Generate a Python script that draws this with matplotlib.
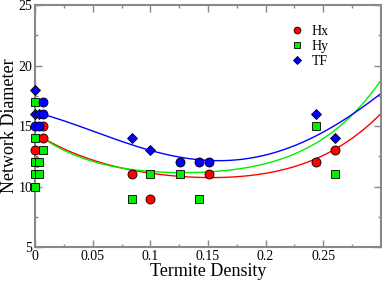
import matplotlib
matplotlib.use("Agg")
import matplotlib.pyplot as plt
import numpy as np
from matplotlib.ticker import MultipleLocator

plt.rcParams['font.family'] = ['Liberation Serif', 'DejaVu Serif']

# Hx (red circles)
hx_x = [0.0, 0.002, 0.007, 0.007, 0.084, 0.1, 0.151, 0.244, 0.26]
hx_y = [13, 12, 15, 14, 11, 9, 11, 12, 13]

# Hy (green squares)
hy_x = [0.0, 0.0, 0.0, 0.0, 0.0, 0.003, 0.003, 0.007, 0.084, 0.1, 0.126, 0.142, 0.244, 0.26]
hy_y = [17, 14, 12, 11, 10, 12, 11, 13, 9, 11, 11, 9, 15, 11]

# TF (blue diamonds, some drawn as circles)
tf_x = [0.0, 0.0, 0.003, 0.084, 0.1, 0.244, 0.26]
tf_y = [18, 16, 16, 14, 13, 16, 14]
tfc_x = [0.0, 0.003, 0.007, 0.007, 0.126, 0.142, 0.151]
tfc_y = [15, 15, 17, 16, 12, 12, 12]

# fitted trend curves
hx_fit_x = [0.004, 0.029, 0.058, 0.1, 0.129, 0.158, 0.186, 0.204, 0.23, 0.265, 0.3]
hx_fit_y = [14.2, 12.9, 11.95, 11.1, 10.87, 10.76, 10.87, 11.12, 11.78, 13.43, 16.0]
hy_fit_x = [0.004, 0.029, 0.058, 0.1, 0.129, 0.158, 0.186, 0.204, 0.23, 0.265, 0.282, 0.3]
hy_fit_y = [14.15, 12.85, 11.88, 11.22, 11.14, 11.28, 11.55, 11.97, 13.07, 15.0, 16.46, 18.86]
tf_fit_x = [0.009, 0.052, 0.1, 0.129, 0.158, 0.186, 0.204, 0.23, 0.265, 0.3]
tf_fit_y = [15.9, 14.53, 13.0, 12.33, 12.16, 12.33, 12.69, 13.65, 15.27, 17.7]

fig = plt.figure(figsize=(3.82, 2.82), dpi=100)
ax = fig.add_axes([0.092, 0.124, 0.905, 0.858])

for xd, yd, c in [(hx_fit_x, hx_fit_y, '#ff0000'),
                  (hy_fit_x, hy_fit_y, '#00ee00'),
                  (tf_fit_x, tf_fit_y, '#0000ff')]:
    p = np.polyfit(xd, yd, 4)
    xs = np.linspace(xd[0], xd[-1], 200)
    ax.plot(xs, np.polyval(p, xs), color=c, lw=1)

kw = dict(ls='none', mec='black', mew=0.6, clip_on=False, zorder=3)
ax.plot(hx_x, hx_y, marker='o', ms=6.5, mfc='#ff0000', label='Hx', **kw)
ax.plot(hy_x, hy_y, marker='s', ms=6, mfc='#00ee00', label='Hy', **kw)
ax.plot(tf_x, tf_y, marker='D', ms=5, mfc='#0000ff', label='TF', **kw)
ax.plot(tfc_x, tfc_y, marker='o', ms=6.5, mfc='#0000ff', **kw)

ax.set_xlim(0, 0.3)
ax.set_ylim(5, 25)
ax.xaxis.set_major_locator(MultipleLocator(0.05))
ax.xaxis.set_minor_locator(MultipleLocator(0.025))
ax.yaxis.set_major_locator(MultipleLocator(5))
ax.yaxis.set_minor_locator(MultipleLocator(2.5))
ax.set_xticks([0, 0.05, 0.1, 0.15, 0.2, 0.25])
ax.set_xticklabels(['0', '0.05', '0.1', '0.15', '0.2', '0.25'])
ax.tick_params(which='both', direction='in', top=True, right=True,
               color='#888888', labelsize=10, pad=2)
ax.tick_params(which='major', length=5, width=1)
ax.tick_params(which='minor', length=2.5, width=1)
for s in ax.spines.values():
    s.set_color('#888888')
    s.set_linewidth(1.5)

ax.set_xlabel('Termite Density', fontsize=13, labelpad=0)
ax.set_ylabel('Network Diameter', fontsize=13, labelpad=0)

ax.legend(loc='upper left', bbox_to_anchor=(0.7, 0.97), frameon=False,
          fontsize=10, handlelength=1, handletextpad=0.6, labelspacing=0.15,
          markerscale=0.75)

fig.savefig('out.png', dpi=100)
